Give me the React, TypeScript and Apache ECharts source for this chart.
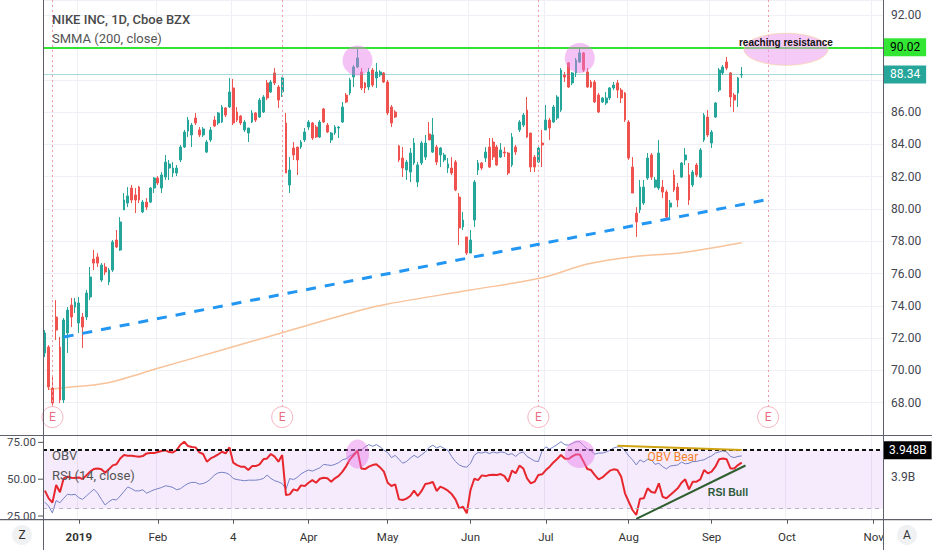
import React, { useEffect, useRef } from 'react';
import * as echarts from 'echarts';

// ---- trading days (categories) ----
const DEC_2018 = [18, 19, 20, 21, 24, 26, 27, 28, 31];
const JAN_2019 = [2, 3, 4, 7, 8, 9, 10, 11, 14, 15, 16, 17, 18, 22, 23, 24, 25, 28, 29, 30, 31];
const FEB_2019 = [1, 4, 5, 6, 7, 8, 11, 12, 13, 14, 15, 19, 20, 21, 22, 25, 26, 27, 28];
const MAR_2019 = [1, 4, 5, 6, 7, 8, 11, 12, 13, 14, 15, 18, 19, 20, 21, 22, 25, 26, 27, 28, 29];
const APR_2019 = [1, 2, 3, 4, 5, 8, 9, 10, 11, 12, 15, 16, 17, 18, 22, 23, 24, 25, 26, 29, 30];
const MAY_2019 = [1, 2, 3, 6, 7, 8, 9, 10, 13, 14, 15, 16, 17, 20, 21, 22, 23, 24, 28, 29, 30, 31];
const JUN_2019 = [3, 4, 5, 6, 7, 10, 11, 12, 13, 14, 17, 18, 19, 20, 21, 24, 25, 26, 27, 28];
const JUL_2019 = [1, 2, 3, 5, 8, 9, 10, 11, 12, 15, 16, 17, 18, 19, 22, 23, 24, 25, 26, 29, 30, 31];
const AUG_2019 = [1, 2, 5, 6, 7, 8, 9, 12, 13, 14, 15, 16, 19, 20, 21, 22, 23, 26, 27, 28, 29, 30];
const SEP_2019 = [3, 4, 5, 6, 9, 10, 11, 12, 13, 16, 17, 18, 19, 20, 23, 24, 25, 26, 27, 30];
const OCT_2019 = [1, 2, 3, 4, 7, 8, 9, 10, 11, 14, 15, 16, 17, 18, 21, 22, 23, 24, 25, 28, 29, 30, 31];
const NOV_2019 = [1, 4, 5];

const pad = (n: number) => String(n).padStart(2, '0');
const monthDays = (y: number, m: number, days: number[]) => days.map((d) => `${y}-${pad(m)}-${pad(d)}`);
const CATEGORIES: string[] = [
  ...monthDays(2018, 12, DEC_2018),
  ...monthDays(2019, 1, JAN_2019),
  ...monthDays(2019, 2, FEB_2019),
  ...monthDays(2019, 3, MAR_2019),
  ...monthDays(2019, 4, APR_2019),
  ...monthDays(2019, 5, MAY_2019),
  ...monthDays(2019, 6, JUN_2019),
  ...monthDays(2019, 7, JUL_2019),
  ...monthDays(2019, 8, AUG_2019),
  ...monthDays(2019, 9, SEP_2019),
  ...monthDays(2019, 10, OCT_2019),
  ...monthDays(2019, 11, NOV_2019),
];

const TICK_DATES = ['2019-01-02', '2019-02-01', '2019-03-04', '2019-04-01', '2019-05-01', '2019-06-03', '2019-07-01', '2019-08-01', '2019-09-03', '2019-10-01', '2019-11-01'];
const TICK_LABELS = ['2019', 'Feb', '4', 'Apr', 'May', 'Jun', 'Jul', 'Aug', 'Sep', 'Oct', 'Nov'];
const EARNINGS_DATES = ['2018-12-20', '2019-03-21', '2019-06-27', '2019-09-24'];

// ---- candles: [open, close, low, high] ----
const CANDLES = [
  [71.08, 72.32, 70.83, 72.5], [71.45, 68.97, 68.79, 71.57], [68.91, 67.98, 67.86, 69.59], [73.31, 72.5, 71.88, 74.36],
  [71.45, 68.17, 67.98, 72.07], [68.17, 73.12, 67.98, 73.25], [72.32, 73.74, 71.08, 73.93], [74.05, 73.31, 72.69, 74.49],
  [73.93, 74.24, 73.56, 74.49], [72.94, 74.18, 72.32, 74.55], [73.31, 72.69, 71.39, 73.56], [73.31, 74.8, 73.12, 74.99],
  [74.55, 75.79, 74.36, 76.41], [76.9, 76.65, 76.22, 77.46], [77.03, 76.65, 76.41, 77.27], [75.6, 76.53, 75.48, 76.65],
  [76.41, 76.1, 75.91, 76.65], [75.48, 76.22, 75.29, 76.35], [76.22, 77.96, 76.1, 78.08], [78.08, 77.65, 77.58, 78.7],
  [77.46, 79.2, 77.4, 79.5], [79.94, 80.56, 79.94, 80.99], [80.37, 80.81, 80.12, 81.36], [81.3, 80.56, 80.37, 81.49],
  [80.87, 80.56, 79.75, 81.3], [81.36, 80.56, 80.37, 81.43], [79.82, 80.43, 79.75, 80.56], [80.43, 80.12, 79.94, 80.68],
  [80.43, 81.3, 80.37, 81.36], [81.3, 81.92, 80.99, 81.98], [81.92, 81.61, 81.49, 82.04], [81.3, 82.11, 80.99, 82.29],
  [81.98, 82.91, 81.8, 83.35], [82.54, 82.79, 81.8, 83.04], [82.23, 82.54, 81.98, 82.91], [82.23, 82.54, 82.04, 82.73],
  [83.04, 83.84, 82.91, 83.97], [83.84, 84.77, 83.78, 84.9], [84.83, 85.51, 84.46, 85.7], [84.59, 85.2, 83.84, 85.33],
  [85.64, 85.33, 85.2, 85.95], [84.9, 84.59, 84.46, 85.08], [84.59, 84.96, 84.46, 85.08], [83.53, 84.15, 83.47, 84.28],
  [84.28, 84.9, 84.15, 85.08], [85.51, 85.14, 85.08, 85.76], [85.33, 85.95, 85.2, 86.01], [85.39, 86.32, 85.33, 86.44],
  [86.26, 85.82, 85.7, 86.32], [86.32, 87.25, 86.26, 88.12], [87.5, 85.33, 85.2, 88.06], [86.01, 85.51, 85.39, 86.32],
  [85.76, 85.33, 85.2, 85.82], [84.9, 85.39, 84.77, 85.51], [84.71, 85.02, 84.15, 85.02], [85.39, 85.95, 85.33, 86.13],
  [85.95, 85.51, 85.39, 86.01], [85.7, 86.75, 85.64, 86.88], [86.01, 86.94, 85.95, 87.06], [87.81, 86.88, 86.75, 88.0],
  [87.25, 87.87, 87.19, 88.0], [88.43, 87.81, 87.68, 88.74], [87.56, 86.75, 86.26, 87.68], [87.25, 88.12, 86.94, 88.18],
  [85.33, 82.23, 82.23, 85.95], [81.49, 82.42, 80.99, 83.22], [83.78, 83.35, 83.04, 84.15], [83.84, 83.04, 82.11, 83.84],
  [83.84, 84.15, 83.72, 84.28], [84.28, 84.77, 84.15, 85.02], [85.08, 85.39, 84.9, 85.51], [85.33, 84.4, 84.28, 85.39],
  [85.08, 84.46, 84.4, 85.2], [84.46, 85.39, 84.4, 85.51], [86.2, 85.39, 85.33, 86.26], [85.2, 84.77, 84.71, 85.33],
  [84.28, 84.71, 84.09, 84.77], [84.71, 85.08, 84.59, 85.2], [85.02, 85.08, 84.4, 85.14], [85.39, 86.32, 85.33, 86.63],
  [87.06, 86.63, 86.57, 87.19], [87.19, 88.0, 87.06, 88.12], [88.18, 88.8, 87.56, 88.92], [88.8, 89.36, 88.74, 90.04],
  [88.49, 87.5, 87.37, 88.74], [87.81, 87.5, 87.19, 87.87], [87.56, 88.49, 87.37, 88.74], [88.61, 87.68, 87.56, 88.74],
  [88.12, 88.49, 87.5, 89.05], [88.3, 88.49, 88.18, 88.61], [88.43, 87.87, 87.81, 88.49], [87.87, 85.95, 85.82, 88.0],
  [86.32, 85.33, 85.08, 86.44], [86.01, 85.7, 85.64, 86.13], [83.91, 83.04, 82.91, 83.97], [83.16, 82.54, 81.98, 83.84],
  [82.42, 82.91, 81.8, 83.04], [82.29, 83.47, 81.67, 83.78], [82.85, 84.09, 82.73, 84.4], [81.67, 82.73, 81.36, 82.91],
  [82.85, 84.09, 82.73, 84.22], [83.22, 84.09, 83.04, 84.59], [84.65, 84.28, 84.28, 85.39], [83.53, 84.59, 83.47, 85.64],
  [83.84, 82.91, 82.73, 83.97], [83.35, 83.78, 82.6, 83.84], [83.04, 83.35, 82.91, 83.47], [82.54, 82.79, 82.23, 83.16],
  [82.54, 82.23, 82.11, 83.22], [82.91, 81.18, 81.11, 83.04], [80.74, 78.83, 77.77, 80.99], [78.89, 79.32, 78.7, 79.82],
  [78.27, 77.27, 77.15, 78.27], [77.27, 78.08, 77.27, 78.7], [79.32, 81.67, 78.89, 81.8], [82.42, 82.85, 82.11, 83.04],
  [82.85, 82.54, 82.42, 82.91], [83.16, 83.53, 82.91, 83.84], [83.84, 82.6, 82.54, 84.4], [84.15, 83.22, 83.04, 84.4],
  [83.84, 82.73, 82.66, 83.97], [83.22, 83.66, 83.16, 84.09], [83.53, 83.47, 83.22, 83.84], [83.47, 82.23, 82.11, 83.53],
  [82.73, 84.46, 82.6, 84.71], [83.84, 83.53, 83.35, 83.97], [84.9, 85.39, 84.77, 85.51], [85.2, 85.82, 85.08, 85.95],
  [86.13, 84.46, 84.4, 86.94], [84.71, 82.6, 82.29, 84.71], [83.22, 82.6, 82.29, 83.35], [82.91, 83.78, 82.85, 83.84],
  [84.09, 83.97, 82.6, 84.9], [84.9, 85.51, 84.9, 86.44], [85.51, 85.02, 84.28, 85.64], [85.39, 86.32, 85.33, 86.44],
  [85.64, 86.94, 85.51, 87.06], [86.13, 88.61, 86.01, 88.74], [88.3, 88.18, 87.87, 88.49], [89.05, 87.56, 87.5, 89.11],
  [87.81, 88.43, 87.68, 88.49], [88.43, 89.23, 88.18, 89.36], [89.11, 89.67, 89.05, 90.04], [89.67, 88.61, 88.49, 89.73],
  [88.49, 87.56, 87.5, 88.74], [87.87, 87.56, 87.5, 88.0], [87.87, 86.63, 86.57, 88.0], [87.06, 86.01, 85.95, 87.19],
  [86.63, 86.88, 86.57, 86.94], [86.57, 86.88, 86.44, 87.25], [86.88, 87.5, 86.75, 87.56], [87.5, 87.68, 87.37, 87.87],
  [87.81, 87.37, 86.88, 88.0], [87.37, 86.88, 86.57, 87.5], [87.19, 85.51, 85.39, 87.25], [85.39, 83.16, 83.04, 85.51],
  [82.6, 80.99, 80.99, 83.22], [79.75, 79.2, 78.27, 80.12], [79.94, 81.36, 79.75, 81.8], [80.37, 81.36, 80.25, 81.8],
  [81.92, 83.16, 81.8, 83.47], [83.35, 81.98, 81.8, 83.47], [81.36, 81.8, 81.3, 81.98], [81.3, 83.47, 81.18, 84.28],
  [81.36, 81.05, 80.68, 81.8], [81.05, 79.5, 79.44, 81.18], [80.12, 80.37, 79.44, 80.56], [82.11, 81.18, 81.05, 82.42],
  [81.36, 80.56, 80.12, 81.61], [81.98, 82.85, 81.92, 82.91], [83.04, 83.35, 82.73, 83.78], [82.11, 80.56, 80.25, 82.85],
  [81.49, 82.29, 81.36, 82.42], [82.73, 82.11, 81.98, 82.85], [81.98, 83.66, 81.92, 83.78], [84.28, 85.82, 84.15, 85.95],
  [85.7, 84.59, 84.46, 86.13], [84.09, 84.77, 83.78, 84.9], [85.7, 86.57, 85.64, 86.63], [87.37, 88.61, 87.25, 88.74],
  [88.43, 88.8, 88.3, 88.92], [89.11, 88.74, 88.61, 89.42], [88.43, 86.94, 86.32, 88.49], [87.06, 86.75, 86.01, 87.19],
  [87.19, 88.12, 86.32, 88.18], [88.3, 88.34, 88.12, 88.8],
];

// ---- SMMA (200, close), read at a few dates ----
const SMMA_DATES = ['2018-12-19', '2018-12-26', '2019-01-11', '2019-02-01', '2019-02-27', '2019-03-21', '2019-04-22', '2019-05-01', '2019-06-03', '2019-06-28', '2019-07-17', '2019-08-02', '2019-08-21', '2019-09-13'];
const SMMA_VALUES = [68.83, 68.93, 69.2, 70.13, 71.27, 72.34, 73.74, 74.12, 74.98, 75.74, 76.59, 77.05, 77.29, 77.91];

// ---- RSI (14, close) ----
const RSI = [
  42.2, 37.0, 34.1, 46.0, 41.1, 50.6, 51.7, 51.0, 50.8, 51.2,
  50.1, 52.6, 55.1, 56.9, 57.3, 56.7, 54.4, 56.7, 59.4, 60.1,
  64.1, 66.4, 65.9, 65.9, 65.5, 65.3, 65.7, 67.5, 67.7, 67.7,
  68.4, 69.1, 69.6, 68.4, 68.2, 69.8, 73.4, 75.4, 72.5, 71.8,
  71.6, 68.2, 67.1, 61.9, 64.1, 65.3, 66.8, 68.6, 67.5, 71.6,
  61.2, 59.6, 58.5, 58.5, 56.2, 58.9, 58.9, 60.1, 63.5, 64.1,
  67.1, 65.3, 61.9, 66.4, 39.2, 39.7, 43.1, 42.2, 45.8, 45.4,
  47.6, 49.4, 47.6, 50.3, 51.0, 50.6, 48.3, 50.6, 52.2, 55.1,
  58.9, 63.5, 66.4, 69.3, 57.3, 56.9, 58.5, 59.6, 60.1, 58.0,
  55.1, 47.6, 45.4, 46.5, 36.3, 35.9, 36.8, 38.6, 42.2, 38.6,
  42.0, 46.7, 47.2, 48.1, 42.0, 44.9, 43.8, 42.2, 39.9, 36.3,
  30.2, 31.3, 26.8, 42.7, 50.3, 49.4, 52.6, 52.1, 52.8, 53.0,
  52.8, 53.5, 52.1, 48.3, 55.8, 54.0, 59.2, 57.3, 50.6, 47.2,
  48.3, 52.8, 53.3, 56.2, 58.5, 61.4, 63.7, 66.4, 64.1, 63.7,
  65.5, 66.8, 66.8, 61.9, 56.9, 56.2, 52.8, 49.9, 51.2, 53.5,
  55.8, 56.7, 56.2, 51.7, 40.4, 34.7, 29.1, 25.7, 36.8, 37.0,
  43.8, 41.3, 40.8, 47.2, 38.1, 37.0, 39.3, 41.5, 43.8, 47.6,
  49.9, 43.1, 48.3, 48.3, 49.9, 56.2, 54.0, 55.1, 58.5, 63.5,
  64.1, 63.5, 57.3, 57.3, 59.6, 61.2,
];

// ---- OBV (millions) ----
const OBV = [
  3856, 3849, 3837, 3859, 3855, 3863, 3870, 3869, 3870, 3864,
  3861, 3867, 3873, 3879, 3872, 3861, 3851, 3857, 3861, 3860,
  3867, 3875, 3883, 3880, 3876, 3876, 3878, 3872, 3875, 3878,
  3880, 3882, 3885, 3884, 3882, 3878, 3880, 3885, 3889, 3891,
  3891, 3888, 3889, 3892, 3897, 3904, 3908, 3909, 3908, 3905,
  3898, 3896, 3895, 3894, 3895, 3895, 3895, 3896, 3898, 3904,
  3898, 3894, 3892, 3889, 3879, 3898, 3896, 3900, 3906, 3910,
  3913, 3911, 3914, 3917, 3923, 3922, 3921, 3923, 3926, 3931,
  3933, 3938, 3942, 3948, 3948, 3954, 3958, 3955, 3958, 3954,
  3948, 3944, 3935, 3939, 3932, 3925, 3928, 3934, 3939, 3935,
  3940, 3945, 3953, 3957, 3952, 3955, 3951, 3948, 3937, 3928,
  3922, 3919, 3918, 3925, 3939, 3944, 3943, 3945, 3942, 3945,
  3943, 3945, 3944, 3940, 3942, 3937, 3943, 3945, 3937, 3933,
  3929, 3928, 3947, 3954, 3950, 3954, 3958, 3963, 3958, 3957,
  3960, 3963, 3963, 3956, 3950, 3947, 3941, 3943, 3943, 3945,
  3948, 3952, 3954, 3954, 3947, 3938, 3931, 3922, 3931, 3927,
  3932, 3931, 3923, 3925, 3919, 3915, 3920, 3921, 3922, 3927,
  3924, 3925, 3928, 3928, 3930, 3931, 3935, 3938, 3943, 3945,
  3947, 3945, 3937, 3935, 3937, 3938,
];

// ---- drawn levels / trend lines ----
const RESISTANCE = 90.02;
const LAST_CLOSE = 88.34;
const OBV_LAST = 3948;
const SUPPORT_TREND = [['2018-12-26', 72.07], ['2019-09-23', 80.55]];
const OBV_BEAR = [['2019-07-29', 3956], ['2019-09-13', 3948.4]];
const RSI_BULL = [['2019-08-05', 23.0], ['2019-09-16', 59.3]];

const UP = '#26a69a';
const DOWN = '#ef5350';
const GRIDC = '#eef0f5';
const FONT = "Roboto, 'Liberation Sans', sans-serif";
const MAIN_MIN = 66;
const MAIN_MAX = 92.95;
const E_LEVEL = 67.11;

const idx = (d: string) => CATEGORIES.indexOf(d);
const tickIdx = new Set(TICK_DATES.map(idx));
const isTick = (i: number) => tickIdx.has(i);

function buildOption(): any {
  return {
    animation: false,
    textStyle: { fontFamily: FONT },
    grid: [
      { left: 43, right: 49, top: 0, height: 435 },
      { left: 43, right: 49, top: 435, height: 84.7 },
    ],
    xAxis: [
      {
        type: 'category', gridIndex: 0, data: CATEGORIES, boundaryGap: true,
        axisLine: { show: false }, axisTick: { show: false }, axisLabel: { show: false },
        splitLine: { show: true, interval: (i: number) => isTick(i), lineStyle: { color: GRIDC } },
      },
      {
        type: 'category', gridIndex: 1, data: CATEGORIES, boundaryGap: true,
        axisLine: { show: false },
        axisTick: { show: true, interval: (i: number) => isTick(i), alignWithLabel: true, length: 4, lineStyle: { color: '#555' } },
        axisLabel: {
          interval: (i: number) => isTick(i), margin: 11, fontSize: 11.5, color: '#333',
          formatter: (v: string) => {
            const k = TICK_DATES.indexOf(v);
            if (k < 0) return '';
            return k === 0 ? `{b|${TICK_LABELS[k]}}` : TICK_LABELS[k];
          },
          rich: { b: { fontWeight: 'bold', fontSize: 11.5, color: '#333' } },
        },
        splitLine: { show: true, interval: (i: number) => isTick(i), lineStyle: { color: GRIDC } },
      },
    ],
    yAxis: [
      {
        type: 'value', gridIndex: 0, position: 'right', min: MAIN_MIN, max: MAIN_MAX, interval: 2,
        axisLine: { show: false }, axisTick: { show: false },
        splitLine: { show: true, lineStyle: { color: GRIDC } },
        axisLabel: {
          margin: 8, fontSize: 12, color: '#434651',
          formatter: (v: number) => {
            if (Math.abs(v - Math.round(v / 2) * 2) > 1e-6) return '';
            if (v === 66 || v === 88 || v === 90) return '';
            return v.toFixed(2);
          },
        },
      },
      {
        type: 'value', gridIndex: 1, position: 'left', min: 22.5, max: 80, interval: 2.5,
        axisLine: { show: false }, axisTick: { show: false }, splitLine: { show: false },
        axisLabel: {
          margin: 7, fontSize: 11.5, color: '#434651',
          formatter: (v: number) => (v === 25 || v === 50 || v === 75 ? v.toFixed(2) : ''),
        },
      },
      {
        type: 'value', gridIndex: 1, position: 'right', min: 3825, max: 3975, interval: 75,
        axisLine: { show: false }, axisTick: { show: false }, splitLine: { show: false },
        axisLabel: {
          margin: 8, fontSize: 12, color: '#434651',
          formatter: (v: number) => (v === 3900 ? '3.9B' : ''),
        },
      },
    ],
    series: [
      {
        type: 'candlestick', name: 'NKE', xAxisIndex: 0, yAxisIndex: 0, data: CANDLES, barWidth: '62%',
        itemStyle: { color: UP, color0: DOWN, borderColor: UP, borderColor0: DOWN, borderWidth: 1 },
        z: 3,
      },
      {
        type: 'line', name: 'SMMA', xAxisIndex: 0, yAxisIndex: 0,
        data: SMMA_DATES.map((d, k) => [idx(d), SMMA_VALUES[k]]),
        symbol: 'none', smooth: 0.3, lineStyle: { color: '#f8c39a', width: 1.5 }, z: 2,
        markLine: {
          silent: true, symbol: ['none', 'none'], label: { show: false },
          data: [
            ...EARNINGS_DATES.map((d) => [
              { coord: [idx(d), MAIN_MAX], lineStyle: { color: '#f29aa6', width: 1, type: [2, 3] } },
              { coord: [idx(d), E_LEVEL] },
            ]),
            [
              { coord: [idx(SUPPORT_TREND[0][0] as string), SUPPORT_TREND[0][1]], lineStyle: { color: '#2196f3', width: 3, type: [10, 9] } },
              { coord: [idx(SUPPORT_TREND[1][0] as string), SUPPORT_TREND[1][1]] },
            ],
            {
              yAxis: LAST_CLOSE, lineStyle: { color: 'rgba(38,166,154,0.4)', width: 1, type: 'solid' },
              label: { show: true, position: 'end', distance: 1, formatter: LAST_CLOSE.toFixed(2), backgroundColor: UP, color: '#fff', padding: [3, 6, 3, 6], fontSize: 12 },
            },
            {
              yAxis: RESISTANCE, lineStyle: { color: '#33e233', width: 2, type: 'solid' },
              label: { show: true, position: 'end', distance: 1, formatter: RESISTANCE.toFixed(2), backgroundColor: '#33e633', color: '#000', padding: [3, 6, 3, 6], fontSize: 12 },
            },
          ],
        },
      },
      {
        type: 'scatter', name: 'Earnings', xAxisIndex: 0, yAxisIndex: 0,
        data: EARNINGS_DATES.map((d) => [idx(d), E_LEVEL]),
        symbol: 'circle', symbolSize: 21, z: 6,
        itemStyle: { color: '#ffffff', borderColor: '#f4a3b3', borderWidth: 1 },
        label: { show: true, position: 'inside', formatter: 'E', color: '#e4455f', fontSize: 12 },
      },
      {
        type: 'line', name: 'RSI', xAxisIndex: 1, yAxisIndex: 1, data: RSI,
        symbol: 'none', lineStyle: { color: '#e8262e', width: 2 }, z: 4,
        markArea: { silent: true, itemStyle: { color: 'rgba(170,90,230,0.12)' }, data: [[{ yAxis: 30 }, { yAxis: 70 }]] },
        markLine: {
          silent: true, symbol: ['none', 'none'], label: { show: false },
          data: [
            { yAxis: 30, lineStyle: { color: '#b4b4c4', width: 1, type: [4, 4] } },
            [
              { coord: [idx(RSI_BULL[0][0] as string), RSI_BULL[0][1]], lineStyle: { color: '#2f5e2f', width: 2, type: 'solid' } },
              { coord: [idx(RSI_BULL[1][0] as string), RSI_BULL[1][1]] },
            ],
          ],
        },
      },
      {
        type: 'line', name: 'OBV', xAxisIndex: 1, yAxisIndex: 2, data: OBV,
        symbol: 'none', lineStyle: { color: '#7680c4', width: 1 }, z: 3,
        markLine: {
          silent: true, symbol: ['none', 'none'], label: { show: false },
          data: [
            {
              yAxis: OBV_LAST, lineStyle: { color: '#111', width: 2, type: [4, 3] },
              label: { show: true, position: 'end', distance: 1, formatter: '3.948B', backgroundColor: '#000', color: '#fff', padding: [3, 5, 3, 5], fontSize: 12 },
            },
            [
              { coord: [idx(OBV_BEAR[0][0] as string), OBV_BEAR[0][1]], lineStyle: { color: '#cfa312', width: 2, type: 'solid' } },
              { coord: [idx(OBV_BEAR[1][0] as string), OBV_BEAR[1][1]] },
            ],
          ],
        },
      },
    ],
  };
}

function buildGraphic(chart: any): any[] {
  const pMain = (d: string, v: number) => chart.convertToPixel({ xAxisIndex: 0, yAxisIndex: 0 }, [idx(d), v]);
  const pRsi = (d: string, v: number) => chart.convertToPixel({ xAxisIndex: 1, yAxisIndex: 1 }, [idx(d), v]);
  const pObv = (d: string, v: number) => chart.convertToPixel({ xAxisIndex: 1, yAxisIndex: 2 }, [idx(d), v]);
  const PINK = 'rgba(232,120,232,0.45)';
  const els: any[] = [];

  const peak1 = pMain('2019-04-18', 89.2);
  const peak2 = pMain('2019-07-15', 89.35);
  const res = pMain('2019-10-01', RESISTANCE);
  els.push({ type: 'ellipse', z: 50, shape: { cx: peak1[0], cy: peak1[1], rx: 15, ry: 15 }, style: { fill: PINK } });
  els.push({ type: 'ellipse', z: 50, shape: { cx: peak2[0], cy: peak2[1], rx: 15, ry: 15 }, style: { fill: PINK } });
  els.push({ type: 'ellipse', z: 50, shape: { cx: res[0] - 1, cy: res[1] + 2, rx: 42, ry: 16 }, style: { fill: 'rgba(238,150,238,0.5)', stroke: 'rgba(245,210,150,0.6)', lineWidth: 1 } });
  els.push({ type: 'text', z: 60, style: { text: 'reaching resistance', x: res[0] - 1, y: res[1] - 5, textAlign: 'center', textVerticalAlign: 'middle', fontSize: 10, fontWeight: 'bold', fontFamily: "'Liberation Sans', Arial, sans-serif", fill: '#111' } });

  const r1 = pRsi('2019-04-18', 67.1);
  const r2 = pRsi('2019-07-15', 67.1);
  els.push({ type: 'ellipse', z: 50, shape: { cx: r1[0], cy: r1[1], rx: 11.5, ry: 14.5 }, style: { fill: PINK } });
  els.push({ type: 'ellipse', z: 50, shape: { cx: r2[0], cy: r2[1], rx: 15, ry: 14 }, style: { fill: PINK } });

  const ob = pObv('2019-08-08', 3936);
  els.push({ type: 'text', z: 60, style: { text: 'OBV Bear', x: ob[0], y: ob[1], textAlign: 'left', textVerticalAlign: 'middle', fontSize: 12, fontFamily: FONT, fill: '#f5822a' } });
  const rb = pRsi('2019-08-30', 41.5);
  els.push({ type: 'text', z: 60, style: { text: 'RSI Bull', x: rb[0], y: rb[1], textAlign: 'left', textVerticalAlign: 'middle', fontSize: 10.5, fontWeight: 'bold', fontFamily: "'Liberation Sans', Arial, sans-serif", fill: '#2e5a3a' } });

  // legend texts
  els.push({ type: 'text', z: 60, style: { text: 'NIKE INC, 1D, Cboe BZX', x: 52, y: 19, textVerticalAlign: 'middle', fontSize: 13, fontWeight: 500, fontFamily: FONT, fill: '#4a4a4a' } });
  els.push({ type: 'text', z: 60, style: { text: 'SMMA (200, close)', x: 52, y: 38, textVerticalAlign: 'middle', fontSize: 13, fontFamily: FONT, fill: '#555' } });
  els.push({ type: 'text', z: 60, style: { text: 'OBV', x: 52, y: 455, textVerticalAlign: 'middle', fontSize: 13, fontFamily: FONT, fill: '#555' } });
  els.push({ type: 'text', z: 60, style: { text: 'RSI (14, close)', x: 52, y: 475, textVerticalAlign: 'middle', fontSize: 13, fontFamily: FONT, fill: '#555' } });

  // frame
  const FR = '#5d606b';
  els.push({ type: 'line', z: 40, shape: { x1: 43.5, y1: 0, x2: 43.5, y2: 550 }, style: { stroke: FR, lineWidth: 1 } });
  els.push({ type: 'line', z: 40, shape: { x1: 883.5, y1: 0, x2: 883.5, y2: 550 }, style: { stroke: FR, lineWidth: 1 } });
  els.push({ type: 'line', z: 40, shape: { x1: 0, y1: 435.5, x2: 932, y2: 435.5 }, style: { stroke: FR, lineWidth: 1.2 } });
  els.push({ type: 'line', z: 40, shape: { x1: 0, y1: 519.7, x2: 932, y2: 519.7 }, style: { stroke: FR, lineWidth: 1.2 } });

  // RSI axis ticks
  [25, 50, 75].forEach((v) => {
    const p = pRsi(CATEGORIES[0], v);
    els.push({ type: 'line', z: 40, shape: { x1: 38, y1: p[1], x2: 43, y2: p[1] }, style: { stroke: '#555', lineWidth: 1 } });
  });

  // corner buttons
  els.push({ type: 'circle', z: 40, shape: { cx: 22, cy: 535, r: 10 }, style: { fill: '#f0f1f3' } });
  els.push({ type: 'text', z: 41, style: { text: 'Z', x: 22, y: 535, textAlign: 'center', textVerticalAlign: 'middle', fontSize: 12, fontFamily: FONT, fill: '#333' } });
  els.push({ type: 'circle', z: 40, shape: { cx: 907, cy: 535, r: 10 }, style: { fill: '#f0f1f3' } });
  els.push({ type: 'text', z: 41, style: { text: 'A', x: 907, y: 535, textAlign: 'center', textVerticalAlign: 'middle', fontSize: 12, fontFamily: FONT, fill: '#333' } });

  return els;
}

export default function App() {
  const ref = useRef<HTMLDivElement>(null);
  useEffect(() => {
    const chart = echarts.init(ref.current as HTMLDivElement, null, { renderer: 'svg' });
    chart.setOption(buildOption());
    chart.setOption({ graphic: buildGraphic(chart) });
    return () => chart.dispose();
  }, []);
  return (
    <div
      ref={ref}
      style={{ position: 'absolute', left: 0, top: 0, width: 932, height: 550, background: '#ffffff' }}
    />
  );
}
